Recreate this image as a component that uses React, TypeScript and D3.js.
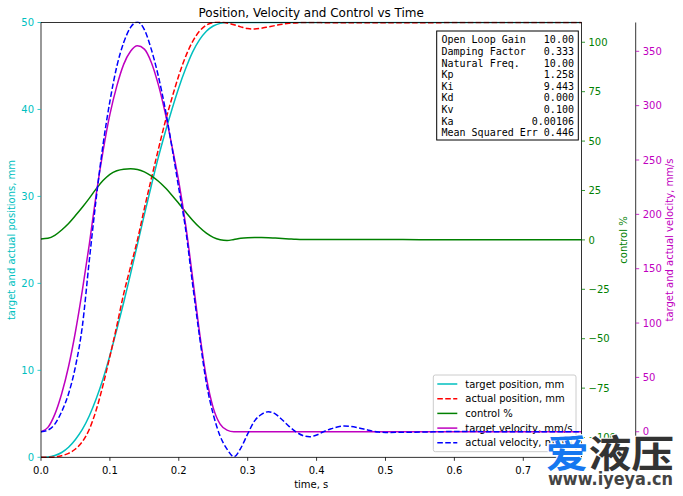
import React from 'react';
import * as d3 from 'd3';

// time samples, s
const time = [
  0, 0.01, 0.02, 0.03, 0.04, 0.05, 0.06, 0.07, 0.08, 0.09,
  0.1, 0.11, 0.12, 0.13, 0.14, 0.15, 0.16, 0.17, 0.18, 0.19,
  0.2, 0.21, 0.22, 0.23, 0.24, 0.25, 0.26, 0.27, 0.28, 0.29,
  0.3, 0.31, 0.32, 0.33, 0.34, 0.35, 0.36, 0.37, 0.38, 0.39,
  0.4, 0.41, 0.42, 0.43, 0.44, 0.45, 0.46, 0.47, 0.48, 0.49,
  0.5, 0.55, 0.6, 0.65, 0.7, 0.75, 0.785,
];

// target position, mm
const targetPosition = [
  0, 0.03, 0.2, 0.55, 1.15, 2.05, 3.2, 4.75, 6.7, 9.0,
  11.7, 14.7, 17.8, 21.1, 24.5, 27.9, 31.2, 34.4, 37.3, 40.0,
  42.5, 44.7, 46.6, 48.0, 49.0, 49.6, 49.9, 50, 50, 50,
  50, 50, 50, 50, 50, 50, 50, 50, 50, 50,
  50, 50, 50, 50, 50, 50, 50, 50, 50, 50,
  50, 50, 50, 50, 50, 50, 50,
];

// actual position, mm
const actualPosition = [
  0, 0.01, 0.05, 0.18, 0.46, 0.95, 1.8, 3.2, 5.4, 8.3,
  11.6, 15.1, 18.8, 21.9, 25.0, 28.6, 32.0, 35.3, 38.5, 41.3,
  43.9, 46.1, 47.8, 49.0, 49.7, 50.0, 50.05, 49.95, 49.75, 49.5,
  49.3, 49.25, 49.35, 49.5, 49.65, 49.8, 49.9, 49.95, 50.0, 50.0,
  50.0, 49.98, 49.97, 49.97, 49.97, 49.97, 49.98, 49.98, 49.98, 49.98,
  49.98, 49.98, 49.99, 50, 50, 50, 50,
];

// control, %
const control = [
  0.5, 0.8, 2.3, 5.0, 8.3, 12.3, 16.5, 21.0, 25.8, 30.0,
  33.2, 35.0, 35.8, 36.0, 35.6, 34.4, 32.4, 29.8, 26.5, 22.6,
  18.4, 14.1, 10.0, 6.4, 3.4, 1.3, 0.1, -0.3, 0.2, 0.8,
  1.1, 1.2, 1.2, 1.1, 0.9, 0.7, 0.5, 0.3, 0.2, 0.2,
  0.2, 0.2, 0.2, 0.2, 0.2, 0.2, 0.2, 0.2, 0.2, 0.2,
  0.2, 0.1, 0.1, 0.1, 0.1, 0.1, 0.1,
];

// target velocity, mm/s
const targetVelocity = [
  0, 4, 16, 35, 60, 92, 130, 172, 218, 258,
  292, 318, 338, 350, 355, 352, 340, 320, 294, 263,
  230, 190, 142, 92, 50, 22, 7, 1.5, 0, 0,
  0, 0, 0, 0, 0, 0, 0, 0, 0, 0,
  0, 0, 0, 0, 0, 0, 0, 0, 0, 0,
  0, 0, 0, 0, 0, 0, 0,
];

// actual velocity, mm/s
const actualVelocity = [
  0, 1.5, 7, 18.5, 35, 60, 97, 157, 214, 264,
  304, 336, 358, 372, 377, 370, 352, 328, 298, 262,
  224, 186, 136, 88, 45, 16, -4, -16, -23, -15,
  -2, 10, 16, 18.4, 16.5, 11, 5, 0, -3.5, -4.6,
  -3, 0, 2.5, 4.3, 5.2, 4.8, 3.7, 2.3, 0.8, -0.3,
  -0.6, -0.3, 0.2, 0.1, 0, 0, 0,
];

const timeTicks = [0, 0.1, 0.2, 0.3, 0.4, 0.5, 0.6, 0.7];
const positionTicks = [0, 10, 20, 30, 40, 50];
const controlTicks = [-100, -75, -50, -25, 0, 25, 50, 75, 100];
const velocityTicks = [0, 50, 100, 150, 200, 250, 300, 350];

const infoLines = [
  'Open Loop Gain   10.00',
  'Damping Factor   0.333',
  'Natural Freq.    10.00',
  'Kp               1.258',
  'Ki               9.443',
  'Kd               0.000',
  'Kv               0.100',
  'Ka             0.00106',
  'Mean Squared Err 0.446',
];

const legendItems = [
  { label: 'target position, mm', color: '#00bfbf', dash: '' },
  { label: 'actual position, mm', color: '#ff0000', dash: '5.55,2.4' },
  { label: 'control %', color: '#008000', dash: '' },
  { label: 'target velocity, mm/s', color: '#bf00bf', dash: '' },
  { label: 'actual velocity, mm/s', color: '#0000ff', dash: '5.55,2.4' },
];

const W = 683;
const H = 496;
const L = 41;
const R = 581.5;
const T = 22.5;
const B = 457.3;
const VEL_SPINE = 635.7;
const FONT = "'DejaVu Sans', sans-serif";
const MINUS = '\u2212';

const fmtSigned = (v: number) => (v < 0 ? MINUS + Math.abs(v) : String(v));

export default function App() {
  const x = d3.scaleLinear().domain([0, 0.7845]).range([L, R]);
  const yPos = d3.scaleLinear().domain([0, 50]).range([B, T]);
  const yCtl = d3.scaleLinear().domain([-110, 110]).range([B, T]);
  const yVel = d3.scaleLinear().domain([-23.5, 376.5]).range([B, T]);

  const mk = (ys: number[], sc: d3.ScaleLinear<number, number>) =>
    d3
      .line<number>()
      .x((_, i) => x(time[i]))
      .y((d) => sc(d))
      .curve(d3.curveMonotoneX)(ys) || '';

  const lw = 1.5;
  const dash = '5.55,2.4';

  const legX = 433.3;
  const legY = 375;
  const legW = 142.7;
  const legH = 76.7;
  const rowH = 14.7;

  return (
    <svg
      width={W}
      height={H}
      viewBox={`0 0 ${W} ${H}`}
      style={{ position: 'absolute', left: 0, top: 0, background: '#fff' }}
      fontFamily={FONT}
    >
      <defs>
        <clipPath id="plotClip">
          <rect x={L} y={T - 1} width={R - L} height={B - T + 2} />
        </clipPath>
      </defs>
      <rect x={0} y={0} width={W} height={H} fill="#fff" />

      {/* title */}
      <text x={(L + R) / 2} y={17} textAnchor="middle" fontSize={12} fill="#000">
        Position, Velocity and Control vs Time
      </text>

      {/* position axes lines */}
      <g clipPath="url(#plotClip)">
        <path d={mk(targetPosition, yPos)} fill="none" stroke="#00bfbf" strokeWidth={lw} />
        <path d={mk(actualPosition, yPos)} fill="none" stroke="#ff0000" strokeWidth={lw} strokeDasharray={dash} />
      </g>

      {/* control line */}
      <g clipPath="url(#plotClip)">
        <path d={mk(control, yCtl)} fill="none" stroke="#008000" strokeWidth={lw} />
      </g>

      {/* info text box */}
      <rect x={436.7} y={31} width={141.6} height={109} fill="#fff" stroke="#000" strokeWidth={1} />
      {infoLines.map((s, i) => (
        <text
          key={s}
          x={441.5}
          y={43.3 + i * 11.6}
          fontSize={10}
          fontFamily="'DejaVu Sans Mono', monospace"
          style={{ whiteSpace: 'pre' }}
          fill="#000"
        >
          {s}
        </text>
      ))}

      {/* legend */}
      <rect x={legX} y={legY} width={legW} height={legH} rx={2} fill="#fff" fillOpacity={0.8} stroke="#cccccc" strokeWidth={1} />
      {legendItems.map((it, i) => {
        const cy = legY + 9 + i * rowH;
        return (
          <g key={it.label}>
            <line x1={437.3} x2={457.3} y1={cy} y2={cy} stroke={it.color} strokeWidth={lw} strokeDasharray={it.dash || undefined} />
            <text x={465.3} y={cy + 3.6} fontSize={10} fill="#000">
              {it.label}
            </text>
          </g>
        );
      })}

      {/* velocity lines */}
      <g clipPath="url(#plotClip)">
        <path d={mk(targetVelocity, yVel)} fill="none" stroke="#bf00bf" strokeWidth={lw} />
        <path d={mk(actualVelocity, yVel)} fill="none" stroke="#0000ff" strokeWidth={lw} strokeDasharray={dash} />
      </g>

      {/* frame */}
      <rect x={L} y={T} width={R - L} height={B - T} fill="none" stroke="#000" strokeWidth={0.8} />
      <line x1={VEL_SPINE} x2={VEL_SPINE} y1={T} y2={B} stroke="#000" strokeWidth={0.8} />

      {/* x axis */}
      {timeTicks.map((t) => (
        <g key={t}>
          <line x1={x(t)} x2={x(t)} y1={B} y2={B + 3.5} stroke="#000" strokeWidth={0.8} />
          <text x={x(t)} y={B + 16.7} textAnchor="middle" fontSize={10} fill="#000">
            {t.toFixed(1)}
          </text>
        </g>
      ))}
      <text x={(L + R) / 2} y={487.5} textAnchor="middle" fontSize={10} fill="#000">
        time, s
      </text>

      {/* left axis */}
      {positionTicks.map((v) => (
        <g key={v}>
          <line x1={L - 3.5} x2={L} y1={yPos(v)} y2={yPos(v)} stroke="#00bfbf" strokeWidth={0.8} />
          <text x={L - 7} y={yPos(v) + 3.6} textAnchor="end" fontSize={10} fill="#00bfbf">
            {v}
          </text>
        </g>
      ))}
      <text transform={`translate(11,240) rotate(-90)`} dy="0.35em" textAnchor="middle" fontSize={10} fill="#00bfbf">
        target and actual positions, mm
      </text>

      {/* control axis */}
      {controlTicks.map((v) => (
        <g key={v}>
          <line x1={R} x2={R + 3.5} y1={yCtl(v)} y2={yCtl(v)} stroke="#008000" strokeWidth={0.8} />
          <text x={R + 7} y={yCtl(v) + 3.6} fontSize={10} fill="#008000">
            {fmtSigned(v)}
          </text>
        </g>
      ))}
      <text transform={`translate(623,240) rotate(-90)`} dy="0.35em" textAnchor="middle" fontSize={10} fill="#008000">
        control %
      </text>

      {/* velocity axis */}
      {velocityTicks.map((v) => (
        <g key={v}>
          <line x1={VEL_SPINE} x2={VEL_SPINE + 3.5} y1={yVel(v)} y2={yVel(v)} stroke="#bf00bf" strokeWidth={0.8} />
          <text x={VEL_SPINE + 7} y={yVel(v) + 3.6} fontSize={10} fill="#bf00bf">
            {v}
          </text>
        </g>
      ))}
      <text transform={`translate(669,240) rotate(-90)`} dy="0.35em" textAnchor="middle" fontSize={10} fill="#bf00bf">
        target and actual velocity, mm/s
      </text>

      {/* watermark */}
      <text
        x={546}
        y={467}
        fontSize={38}
        fontWeight="bold"
        fontFamily="'Noto Sans CJK SC', sans-serif"
        textLength={128}
        lengthAdjust="spacingAndGlyphs"
        stroke="#fff"
        strokeWidth={2}
        style={{ paintOrder: 'stroke' }}
      >
        <tspan fill="#1577f0">爱</tspan>
        <tspan fill="#333333">液压</tspan>
      </text>
      <text
        x={548}
        y={485}
        fontSize={17}
        fontWeight="bold"
        fontFamily="'DejaVu Sans', sans-serif"
        textLength={125}
        lengthAdjust="spacingAndGlyphs"
        fill="#444444"
        stroke="#fff"
        strokeWidth={1.5}
        style={{ paintOrder: 'stroke' }}
      >
        www.iyeya.cn
      </text>
    </svg>
  );
}
